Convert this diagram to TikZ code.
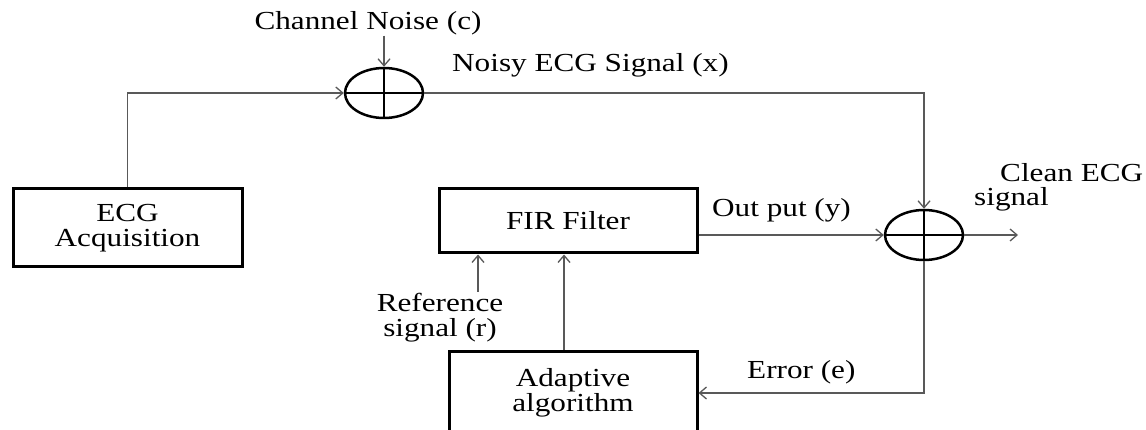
\documentclass[tikz,border=0pt]{standalone}
\usepackage{fontspec}
\setmainfont{Liberation Serif}[FakeStretch=1.2]
\usetikzlibrary{arrows.meta,shapes.geometric}
\begin{document}
\begin{tikzpicture}[x=1pt,y=-1pt,
  font=\fontsize{26}{25}\selectfont,
  blk/.style={draw, line width=3pt, inner sep=0pt, align=center},
  sumnode/.style={draw, ellipse, line width=2.5pt, minimum width=78pt, minimum height=50pt, inner sep=0pt},
  sig/.style={draw=black!65, line width=1.3pt},
  arr/.style={sig, -{Straight Barb[length=7pt,width=12pt]}},
  lbl/.style={inner sep=0pt, text=black}]
\useasboundingbox (0,0) rectangle (1146,430);
\clip (0,0) rectangle (1146,430);

% processing blocks
\node[blk, minimum width=229pt, minimum height=78pt] (acq) at (127.5,228) {ECG\\Acquisition};
\node[blk, minimum width=258pt, minimum height=64pt] (fir) at (568,221) {FIR Filter};
\node[blk, minimum width=248pt, minimum height=84pt] (adp) at (573,393) {Adaptive\\algorithm};

% summing junctions
\node[sumnode] (s1) at (384,93) {};
\node[sumnode] (s2) at (924,235) {};
\draw[line width=2.5pt] (s1.north) -- (s1.south) (s1.west) -- (s1.east);
\draw[line width=2.5pt] (s2.north) -- (s2.south) (s2.west) -- (s2.east);

% signal labels
\node[lbl, anchor=base] (cn) at (368,30) {Channel Noise (c)};
\node[lbl, anchor=base west] (nx) at (452,72) {Noisy ECG Signal (x)};
\node[lbl, anchor=base west] (oy) at (712,217) {Out put (y)};
\node[lbl, anchor=base west] (ee) at (747,378) {Error (e)};
\node[lbl, anchor=base west] (ce1) at (1000,182) {Clean ECG};
\node[lbl, anchor=base west] (ce2) at (974,206) {signal};
\node[lbl, align=center] (ref) at (440,318) {Reference\\signal (r)};

\coordinate (rt) at (478,292);
\coordinate (out) at (1018,235);

% signal paths
\draw[arr] (acq.north) |- (s1.west);
\draw[arr] (s1.north |- cn.south) -- (s1.north);
\draw[arr] (s1.east) -| (s2.north);
\draw[arr] (fir.east |- s2.west) -- (s2.west);
\draw[arr] (s2.east) -- (out);
\draw[arr] (s2.south) |- (adp.east);
\draw[arr] ([xshift=-9pt]adp.north) -- ([xshift=-9pt]adp.north |- fir.south);
\draw[arr] (rt) -- (rt |- fir.south);
\end{tikzpicture}
\end{document}
